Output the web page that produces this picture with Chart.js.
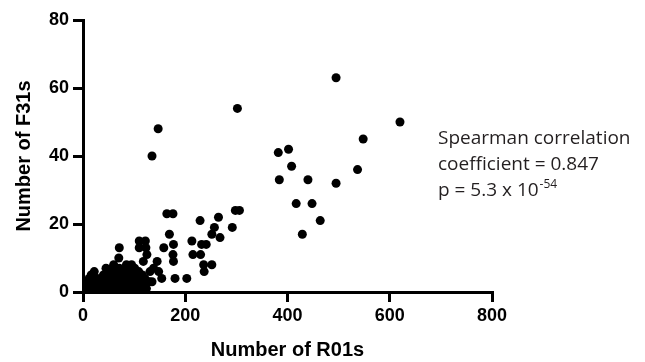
<!DOCTYPE html>
<html>
<head>
<meta charset="utf-8">
<script src="https://cdn.jsdelivr.net/npm/chart.js@4/dist/chart.umd.min.js"></script>
<style>
  html, body { margin: 0; padding: 0; background: #fff; }
  #wrap { width: 645px; height: 362px; }
</style>
</head>
<body>
<div id="wrap"><canvas id="scatterChart" width="645" height="362"></canvas></div>
<script>
// number of R01 grants (x) vs number of F31 grants (y), one pair per point
const r01Counts = [
    620, 548, 495, 382, 402, 408, 537, 384, 440, 495, 417, 448, 464, 429, 302, 147, 135,
    229, 265, 257, 252, 268, 292, 298, 306, 232, 241, 230, 236, 252, 237,
    164, 176, 169, 213, 158, 177, 176, 177, 215, 145, 138, 148, 154, 135, 180, 203, 130,
    71, 70, 110, 122, 110, 123, 125, 118, 22, 131,
    3, 6, 9, 11, 14, 17, 19, 21, 24, 26, 28, 30, 33, 35, 37, 40, 41, 44, 46, 48,
    50, 51, 53, 55, 57, 59, 61, 63, 64, 66, 68, 70, 71, 73, 75, 77, 79, 80, 82, 84,
    86, 88, 90, 92, 94, 96, 98, 100, 101, 103, 105, 107, 109, 112, 114, 116, 118, 121, 124, 127,
    12, 8, 4, 16, 60, 85, 95, 45
];
const f31Counts = [
    50, 45, 63, 41, 42, 37, 36, 33, 33, 32, 26, 26, 21, 17, 54, 48, 40,
    21, 22, 19, 17, 16, 19, 24, 24, 14, 14, 11, 8, 8, 6,
    23, 23, 17, 15, 13, 14, 11, 9, 11, 9, 7, 6, 4, 3, 4, 4, 3,
    13, 10, 15, 15, 13, 13, 11, 9, 6, 6,
    0, 2, 1, 0, 1, 3, 0, 2, 1, 0, 4, 2, 1, 3, 0, 5, 2, 1, 4, 6,
    3, 0, 2, 5, 7, 1, 4, 2, 6, 0, 3, 5, 7, 1, 4, 2, 6, 0, 3, 5,
    7, 1, 4, 2, 6, 3, 0, 5, 7, 2, 4, 1, 6, 3, 0, 5, 2, 4, 1, 3,
    4, 3, 1, 5, 8, 8, 8, 7
];
const xTicks = [0, 200, 400, 600, 800];
const yTicks = [0, 20, 40, 60, 80];
const noteLines = ['Spearman correlation', 'coefficient = 0.847', 'p = 5.3 x 10'];
const noteExponent = '-54';

const points = r01Counts.map((x, i) => ({ x: x, y: f31Counts[i] }));

// text block to the right of the points
const notePlugin = {
    id: 'note',
    afterDraw(chart) {
        const ctx = chart.ctx;
        ctx.save();
        ctx.fillStyle = '#231f20';
        ctx.textBaseline = 'alphabetic';
        ctx.font = '19px "Open Sans"';
        const left = 438;
        const baselines = [144, 170, 196];
        noteLines.forEach((t, i) => ctx.fillText(t, left, baselines[i]));
        const w = ctx.measureText(noteLines[2]).width;
        ctx.font = '12px "Open Sans"';
        ctx.fillText(noteExponent, left + w + 1, baselines[2] - 8);
        ctx.restore();
    }
};

const axisFont = { family: 'Liberation Sans, Arial, sans-serif', size: 18, weight: 'bold' };
const titleFont = { family: 'Liberation Sans, Arial, sans-serif', size: 20, weight: 'bold' };

new Chart(document.getElementById('scatterChart'), {
    type: 'scatter',
    data: {
        datasets: [{
            data: points,
            backgroundColor: '#000',
            borderWidth: 0,
            pointRadius: 4.5,
            pointHoverRadius: 4.5
        }]
    },
    options: {
        responsive: false,
        animation: false,
        events: [],
        layout: { padding: { left: 12, right: 153, top: 20, bottom: 0 } },
        plugins: { legend: { display: false }, tooltip: { enabled: false } },
        scales: {
            x: {
                type: 'linear',
                min: 0,
                max: 800,
                afterBuildTicks: s => { s.ticks = xTicks.map(v => ({ value: v })); },
                afterFit: s => { s.height = 70; },
                border: { display: true, color: '#000', width: 3 },
                grid: { drawOnChartArea: false, drawTicks: true, tickLength: 10, color: '#000', lineWidth: 3 },
                ticks: { color: '#000', font: axisFont, padding: 3, maxRotation: 0 },
                title: { display: true, text: 'Number of R01s', color: '#000', font: titleFont, padding: { top: 6, bottom: 0 } }
            },
            y: {
                type: 'linear',
                min: 0,
                max: 80,
                afterBuildTicks: s => { s.ticks = yTicks.map(v => ({ value: v })); },
                afterFit: s => { s.width = 71; },
                border: { display: true, color: '#000', width: 3 },
                grid: { drawOnChartArea: false, drawTicks: true, tickLength: 10, color: '#000', lineWidth: 3 },
                ticks: { color: '#000', font: axisFont, padding: 4 },
                title: { display: true, text: 'Number of F31s', color: '#000', font: titleFont, padding: { top: 0, bottom: 6 } }
            }
        }
    },
    plugins: [notePlugin]
});
</script>
</body>
</html>
